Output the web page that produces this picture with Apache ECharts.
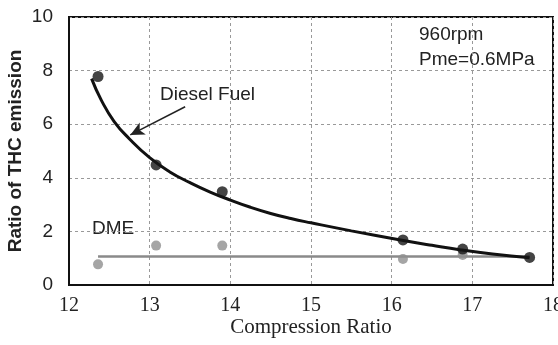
<!DOCTYPE html>
<html>
<head>
<meta charset="utf-8">
<script src="https://cdn.jsdelivr.net/npm/echarts@6/dist/echarts.min.js"></script>
<style>
  html, body { margin: 0; padding: 0; background: #fff; }
  #chart { width: 558px; height: 345px; }
</style>
</head>
<body>
<div id="chart"></div>
<script>
// Measured points: compression ratio vs THC emission ratio
const dieselX = [12.36, 13.08, 13.90, 16.14, 16.88, 17.71];
const dieselY = [7.78, 4.48, 3.48, 1.68, 1.34, 1.03];

// Fitted trend curve for diesel fuel
const dieselFitX = [12.28, 12.40, 12.56, 12.75, 13.00, 13.25, 13.50, 13.75, 14.00, 14.25, 14.50, 14.75, 15.00, 15.50, 16.11, 16.50, 16.86, 17.25, 17.71];
const dieselFitY = [7.70, 6.90, 6.10, 5.45, 4.75, 4.22, 3.82, 3.47, 3.17, 2.90, 2.67, 2.48, 2.32, 2.02, 1.68, 1.48, 1.31, 1.16, 1.02];

const dmeX = [12.36, 13.08, 13.90, 16.14, 16.88];
const dmeY = [0.77, 1.47, 1.47, 0.97, 1.12];

// DME average level
const dmeLineX = [12.36, 17.71];
const dmeLineY = [1.06, 1.06];

const xTicks = { min: 12, max: 18, step: 1 };
const yTicks = { min: 0, max: 10, step: 2 };

const pairs = (xs, ys) => xs.map((x, i) => [x, ys[i]]);

const chart = echarts.init(document.getElementById('chart'), null, { renderer: 'canvas' });

chart.setOption({
  backgroundColor: '#ffffff',
  animation: false,
  grid: {
    left: 69, right: 5, top: 17, bottom: 60,
    containLabel: false,
    outerBoundsMode: 'none',
    show: true, borderColor: '#111', borderWidth: 2, backgroundColor: 'transparent'
  },
  xAxis: {
    type: 'value',
    min: xTicks.min, max: xTicks.max, interval: xTicks.step,
    name: 'Compression Ratio',
    nameLocation: 'middle',
    nameGap: 32,
    nameMoveOverlap: false,
    nameTextStyle: { fontFamily: 'Liberation Serif', fontSize: 21, color: '#222' },
    axisLine: { show: true, lineStyle: { color: '#111', width: 2 } },
    axisTick: { show: false },
    axisLabel: { fontFamily: 'Liberation Serif', fontSize: 20, color: '#222', margin: 11 },
    splitLine: { show: true, lineStyle: { color: '#999', type: [3, 3], width: 1 } }
  },
  yAxis: {
    type: 'value',
    min: yTicks.min, max: yTicks.max, interval: yTicks.step,
    name: 'Ratio of THC emission',
    nameLocation: 'middle',
    nameGap: 44,
    nameMoveOverlap: false,
    nameTextStyle: { fontFamily: 'Liberation Sans', fontSize: 19, fontWeight: 'bold', color: '#222' },
    axisLine: { show: true, lineStyle: { color: '#111', width: 2 } },
    axisTick: { show: false },
    axisLabel: { fontFamily: 'Liberation Sans', fontSize: 19, color: '#222', margin: 16 },
    splitLine: { show: true, lineStyle: { color: '#999', type: [3, 3], width: 1 } }
  },
  series: [
    {
      name: 'DME level',
      type: 'line',
      data: pairs(dmeLineX, dmeLineY),
      showSymbol: false,
      lineStyle: { color: '#8a8a8a', width: 2.5 },
      z: 2
    },
    {
      name: 'DME',
      type: 'scatter',
      data: pairs(dmeX, dmeY),
      symbolSize: 10,
      itemStyle: { color: '#8e8e8e' },
      z: 3
    },
    {
      name: 'Diesel fit',
      type: 'line',
      data: pairs(dieselFitX, dieselFitY),
      smooth: 0.5,
      showSymbol: false,
      lineStyle: { color: '#111', width: 3 },
      z: 4,
      markLine: {
        silent: true,
        symbol: ['none', 'arrow'],
        symbolSize: [10, 14],
        label: { show: false },
        lineStyle: { color: '#222', width: 1.5, type: 'solid' },
        data: [[{ coord: [13.44, 6.65] }, { coord: [12.76, 5.60] }]]
      }
    },
    {
      name: 'Diesel Fuel',
      type: 'scatter',
      data: pairs(dieselX, dieselY),
      symbolSize: 11,
      itemStyle: { color: '#151515' },
      z: 5
    }
  ],
  graphic: [
    { type: 'text', left: 160, top: 85, style: { text: 'Diesel Fuel', font: '19px "Liberation Sans"', fill: '#222' } },
    { type: 'text', left: 92, top: 219, style: { text: 'DME', font: '19px "Liberation Sans"', fill: '#222' } },
    { type: 'text', left: 419, top: 25, style: { text: '960rpm', font: '19px "Liberation Sans"', fill: '#222' } },
    { type: 'text', left: 419, top: 50, style: { text: 'Pme=0.6MPa', font: '19px "Liberation Sans"', fill: '#222' } }
  ]
});
</script>
</body>
</html>
